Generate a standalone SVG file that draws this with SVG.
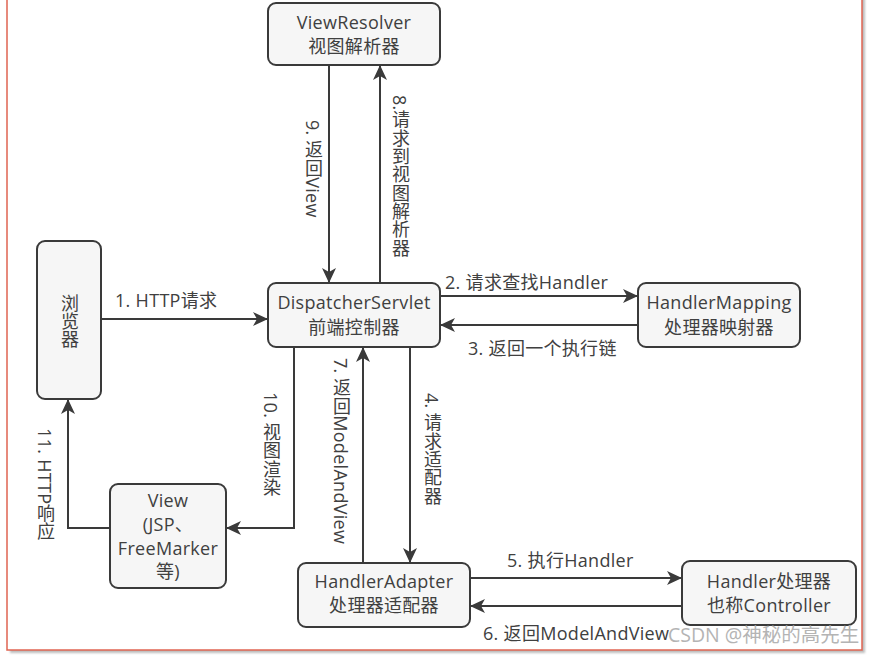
<svg xmlns="http://www.w3.org/2000/svg" width="870" height="655" viewBox="0 0 870 655">
<defs>
<style>
text{font-family:"Open Sans","Noto Sans CJK SC",sans-serif;font-size:18px;letter-spacing:0.3px;fill:#404040}
.c{text-anchor:middle}
.v{writing-mode:vertical-rl}
.box{fill:#f6f6f6;stroke:#3a3a3a;stroke-width:2}
.ln{fill:none;stroke:#3a3a3a;stroke-width:2}
.wm{fill:#b4b4b4;font-size:19.5px;letter-spacing:0}
</style>
<marker id="ah" markerUnits="userSpaceOnUse" markerWidth="16" markerHeight="14" refX="15" refY="7" orient="auto">
<path d="M0,0 L15,7 L0,14 L4,7 z" fill="#3a3a3a"/>
</marker>
<filter id="sh" x="-5%" y="-5%" width="110%" height="110%"><feGaussianBlur stdDeviation="1"/></filter>
</defs>
<rect x="10" y="-7" width="855" height="660" fill="#bdbdbd" filter="url(#sh)"/>
<rect x="7" y="-10" width="855" height="660" fill="#ffffff" stroke="#e06452" stroke-width="1.5"/>

<g id="connectors">
<line class="ln" x1="101" y1="319" x2="268" y2="319" marker-end="url(#ah)"/>
<text x="115" y="307">1. HTTP请求</text>
<line class="ln" x1="440" y1="296" x2="638" y2="296" marker-end="url(#ah)"/>
<text x="445" y="289">2. 请求查找Handler</text>
<line class="ln" x1="638" y1="325" x2="440" y2="325" marker-end="url(#ah)"/>
<text x="468" y="355">3. 返回一个执行链</text>
<line class="ln" x1="329" y1="65" x2="329" y2="283" marker-end="url(#ah)"/>
<text class="v" x="313" y="120">9. 返回View</text>
<line class="ln" x1="380" y1="283" x2="380" y2="65" marker-end="url(#ah)"/>
<text class="v" x="400" y="95">8.请求到视图解析器</text>
<polyline class="ln" points="294,347 294,528 226,528" marker-end="url(#ah)"/>
<text class="v" x="271" y="392">10. 视图渲染</text>
<line class="ln" x1="363" y1="563" x2="363" y2="347" marker-end="url(#ah)"/>
<text class="v" x="341" y="358">7. 返回ModelAndView</text>
<line class="ln" x1="410" y1="347" x2="410" y2="563" marker-end="url(#ah)"/>
<text class="v" x="432" y="393">4. 请求适配器</text>
<polyline class="ln" points="110,528 68,528 68,399" marker-end="url(#ah)"/>
<text class="v" x="45" y="428">11. HTTP响应</text>
<line class="ln" x1="470" y1="578" x2="682" y2="578" marker-end="url(#ah)"/>
<text x="507" y="567">5. 执行Handler</text>
<line class="ln" x1="682" y1="606" x2="470" y2="606" marker-end="url(#ah)"/>
<text x="483" y="640">6. 返回ModelAndView</text>
</g>

<g id="viewresolver">
<rect class="box" x="268" y="3" width="172" height="62" rx="8"/>
<text class="c" x="354" y="29">ViewResolver</text>
<text class="c" x="354" y="53">视图解析器</text>
</g>
<g id="browser">
<rect class="box" x="37" y="241" width="64" height="158" rx="8"/>
<text class="v" x="69" y="294">浏览器</text>
</g>
<g id="dispatcher">
<rect class="box" x="268" y="283" width="172" height="64" rx="8"/>
<text class="c" x="354" y="309">DispatcherServlet</text>
<text class="c" x="354" y="334">前端控制器</text>
</g>
<g id="handlermapping">
<rect class="box" x="638" y="283" width="162" height="64" rx="8"/>
<text class="c" x="719" y="309">HandlerMapping</text>
<text class="c" x="719" y="334">处理器映射器</text>
</g>
<g id="view">
<rect class="box" x="110" y="484" width="116" height="104" rx="8"/>
<text class="c" x="168" y="507">View</text>
<text class="c" x="168" y="531">(JSP、</text>
<text class="c" x="168" y="555">FreeMarker</text>
<text class="c" x="168" y="578">等)</text>
</g>
<g id="handleradapter">
<rect class="box" x="298" y="563" width="172" height="64" rx="8"/>
<text class="c" x="384" y="588">HandlerAdapter</text>
<text class="c" x="384" y="612">处理器适配器</text>
</g>
<g id="handler">
<rect class="box" x="682" y="561" width="174" height="64" rx="8"/>
<text class="c" x="769" y="588">Handler处理器</text>
<text class="c" x="769" y="612">也称Controller</text>
</g>
<text class="wm" x="668" y="642">CSDN @神秘的高先生</text>
</svg>
